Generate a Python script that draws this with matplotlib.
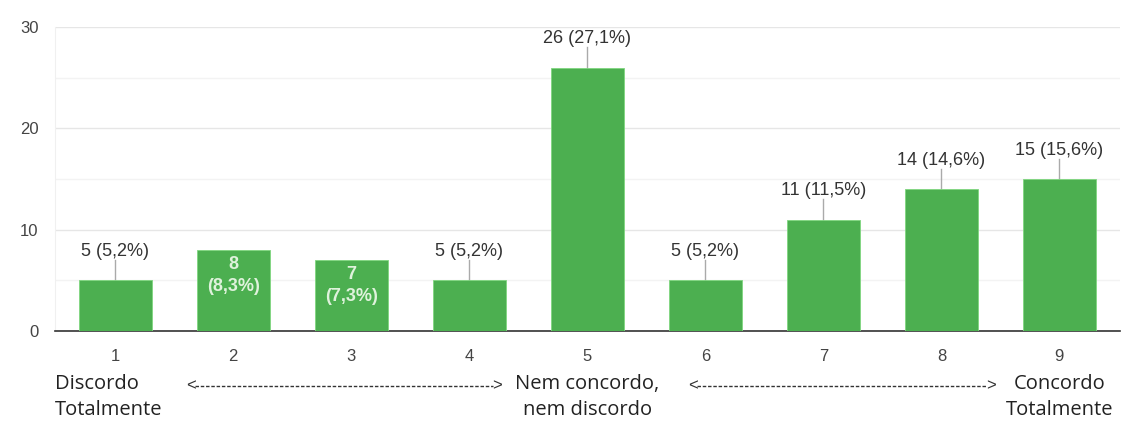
import matplotlib.pyplot as plt
from matplotlib.ticker import MultipleLocator

categories = [1, 2, 3, 4, 5, 6, 7, 8, 9]
counts = [5, 8, 7, 5, 26, 5, 11, 14, 15]
labels = ["5 (5,2%)", "8\n(8,3%)", "7\n(7,3%)", "5 (5,2%)", "26 (27,1%)",
          "5 (5,2%)", "11 (11,5%)", "14 (14,6%)", "15 (15,6%)"]
inside = [False, True, True, False, False, False, False, False, False]

green = "#4caf50"

fig = plt.figure(figsize=(11.23, 4.24), dpi=100)
ax = fig.add_axes([0.049, 0.219, 0.948, 0.717])

ax.bar(categories, counts, width=0.62, color=green, edgecolor="#7fd67f",
       linewidth=0.6, zorder=3)

for x, v, lab, ins in zip(categories, counts, labels, inside):
    if ins:
        ax.text(x, v - 0.6, lab, ha="center", va="top", fontsize=13,
                color="#dff2dc", fontweight="semibold", family="Liberation Sans",
                linespacing=1.4, zorder=4)
    else:
        ax.plot([x, x], [v, v + 2.0], color="#aaaaaa", lw=1, zorder=2)
        ax.text(x, v + 2.0, lab, ha="center", va="bottom", fontsize=13,
                color="#333333", family="Liberation Sans", zorder=4)

ax.set_xlim(0.49, 9.51)
ax.set_ylim(0, 30)
ax.yaxis.set_major_locator(MultipleLocator(10))
ax.yaxis.set_minor_locator(MultipleLocator(5))
ax.grid(axis="y", which="major", color="#e6e6e6", lw=1, zorder=0)
ax.grid(axis="y", which="minor", color="#f3f3f3", lw=1, zorder=0)
ax.set_xticks(categories)

for s in ["top", "right"]:
    ax.spines[s].set_visible(False)
ax.spines["left"].set_color("#f0f0f0")
ax.spines["bottom"].set_color("#333333")
ax.spines["bottom"].set_linewidth(1.2)
ax.tick_params(axis="both", which="both", length=0, labelsize=12, labelcolor="#444444")
ax.tick_params(axis="x", pad=13)
ax.tick_params(axis="y", pad=12)
for t in ax.get_xticklabels() + ax.get_yticklabels():
    t.set_family("Liberation Sans")

# scale legend below the axis
tr = ax.get_xaxis_transform()
cat_kw = dict(transform=tr, fontsize=14.5, color="#222222", family="Open Sans",
              va="top", linespacing=1.4, clip_on=False)
ax.text(0.49, -0.14, "Discordo\nTotalmente", ha="left", **cat_kw)
ax.text(5, -0.14, "Nem concordo,\nnem discordo", ha="center", **cat_kw)
ax.text(9.0, -0.14, "Concordo\nTotalmente", ha="center", **cat_kw)

for x0, x1 in [(1.6, 4.28), (5.85, 8.46)]:
    ax.plot([x0 + 0.08, x1 - 0.08], [-0.18, -0.18], transform=tr, color="#333333",
            lw=1.0, ls=(0, (2.5, 1.3)), clip_on=False)
    ax.text(x0, -0.18, "<", transform=tr, ha="left", va="center", fontsize=12,
            color="#333333", family="Liberation Sans")
    ax.text(x1, -0.18, ">", transform=tr, ha="right", va="center", fontsize=12,
            color="#333333", family="Liberation Sans")

fig.savefig("out.png", dpi=100, facecolor="white")
